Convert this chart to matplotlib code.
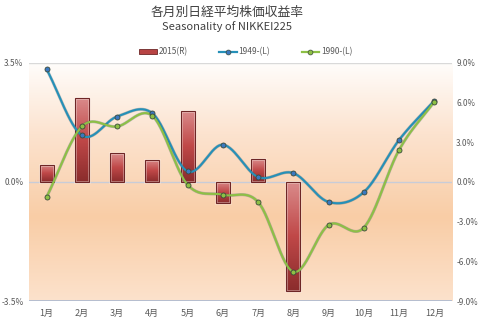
import numpy as np
import matplotlib
matplotlib.use("Agg")
import matplotlib.pyplot as plt
from matplotlib.colors import LinearSegmentedColormap
from matplotlib.lines import Line2D
from matplotlib.patches import Patch
import matplotlib.patheffects as pe

plt.rcParams['font.family'] = ['Noto Sans CJK JP', 'DejaVu Sans']

months = ["1月", "2月", "3月", "4月", "5月", "6月", "7月", "8月", "9月", "10月", "11月", "12月"]
ret_2015 = [0.50, 2.47, 0.84, 0.65, 2.09, -0.62, 0.67, -3.20, None, None, None, None]
ret_1949 = [8.49, 3.50, 4.92, 5.17, 0.78, 2.79, 0.35, 0.65, -1.53, -0.78, 3.16, 6.12]
ret_1990 = [-1.15, 4.17, 4.17, 4.97, -0.23, -0.98, -1.53, -6.80, -3.26, -3.46, 2.41, 6.05]

left_ticks = [-3.5, 0.0, 3.5]
right_ticks = [-9, -6, -3, 0, 3, 6, 9]

BLUE = "#2590B8"
GREEN = "#8DC045"
GRAY_TXT = "#595959"


def smooth(xs, ys, n=30):
    """Catmull-Rom curve through the points."""
    xs = np.asarray(xs, float)
    ys = np.asarray(ys, float)
    px = np.concatenate([[2 * xs[0] - xs[1]], xs, [2 * xs[-1] - xs[-2]]])
    py = np.concatenate([[2 * ys[0] - ys[1]], ys, [2 * ys[-1] - ys[-2]]])
    out_x, out_y = [], []
    t = np.linspace(0, 1, n, endpoint=False)
    for i in range(1, len(px) - 2):
        p0, p1, p2, p3 = px[i - 1], px[i], px[i + 1], px[i + 2]
        q0, q1, q2, q3 = py[i - 1], py[i], py[i + 1], py[i + 2]
        for a, b, c, d, store in ((p0, p1, p2, p3, out_x), (q0, q1, q2, q3, out_y)):
            store.extend(0.5 * ((2 * b) + (-a + c) * t + (2 * a - 5 * b + 4 * c - d) * t ** 2
                                + (-a + 3 * b - 3 * c + d) * t ** 3))
    out_x.append(xs[-1])
    out_y.append(ys[-1])
    return np.array(out_x), np.array(out_y)


fig = plt.figure(figsize=(4.8, 3.23), dpi=100)
fig.patch.set_facecolor("white")
ax = fig.add_axes([0.0604, 0.0681, 0.8813, 0.7384])
ax2 = ax.twinx()

x = np.arange(len(months))
ax.set_xlim(-0.5, len(months) - 0.5)
ax.set_ylim(-3.5, 3.5)
ax2.set_ylim(-9, 9)

# plot-area background gradient
bg = LinearSegmentedColormap.from_list("bg", [(0.0, "#FCE2CC"), (0.35, "#F9CDA6"),
                                              (0.7, "#FCE3CF"), (1.0, "#FFFDFB")])
grad = np.linspace(0, 1, 256).reshape(-1, 1)
ax.imshow(grad, cmap=bg, aspect="auto", extent=[-0.5, len(months) - 0.5, -3.5, 3.5],
          origin="lower", zorder=0)

# gridlines
ax.axhline(3.5, color="#D9D9D9", lw=1.0, zorder=1)
ax.axhline(0.0, color="#C8CCD8", lw=1.0, zorder=1)
ax.axhline(-3.5, color="#A9B8D0", lw=1.2, zorder=1)

# bars with vertical gradient fill
bar_cmap = LinearSegmentedColormap.from_list("bar", ["#8A2C2C", "#C04848", "#DA8C8C"])
bw = 0.4
for xi, v in zip(x, ret_2015):
    if v is None:
        continue
    lo, hi = min(0, v), max(0, v)
    rect = plt.Rectangle((xi - bw / 2, lo), bw, hi - lo, facecolor="none",
                         edgecolor="#6E2626", lw=0.8, zorder=3,
                         path_effects=[pe.Stroke(linewidth=1.8, foreground="#FFF4EE", alpha=0.5),
                                       pe.Normal()])
    ax.add_patch(rect)
    im = ax.imshow(grad, cmap=bar_cmap, aspect="auto",
                   extent=[xi - bw / 2, xi + bw / 2, lo, hi], origin="lower", zorder=2)
    im.set_clip_path(rect)
ax.set_xlim(-0.5, len(months) - 0.5)
ax.set_ylim(-3.5, 3.5)

# smoothed lines on the right axis
for vals, col, mfc in ((ret_1949, BLUE, "#3A78C0"), (ret_1990, GREEN, "#8DC045")):
    sx, sy = smooth(x, vals)
    ax2.plot(sx, sy, color=col, lw=1.5, zorder=4, solid_capstyle="round",
             path_effects=[pe.Stroke(linewidth=2.2, foreground="#3C5A66", alpha=0.35), pe.Normal()])
    ax2.plot(x, vals, ls="none", marker="o", ms=3.6, mfc=mfc, mec="#3A4A3A", mew=0.6, zorder=5)

# axes styling
for a in (ax, ax2):
    for s in a.spines.values():
        s.set_visible(False)
    a.tick_params(length=0, labelsize=6, labelcolor=GRAY_TXT)
ax.set_xticks(x)
ax.set_xticklabels(months, fontsize=6.5, color=GRAY_TXT)
ax.tick_params(axis="x", pad=6)
ax.set_yticks(left_ticks)
ax.set_yticklabels([f"{v:.1f}%" for v in left_ticks])
ax2.set_yticks(right_ticks)
ax2.set_yticklabels([f"{v:.1f}%" for v in right_ticks])
ax.tick_params(axis="y", pad=4)
ax2.tick_params(axis="y", pad=3, labelsize=5.8)

# titles
fig.text(0.473, 0.963, "各月別日経平均株価収益率", ha="center", va="center",
         fontsize=9.2, color="#404040")
fig.text(0.473, 0.917, "Seasonality of NIKKEI225", ha="center", va="center",
         fontsize=8, color="#404040")

# legend
handles = [Patch(facecolor="#B84444", edgecolor="#6E2626", lw=0.6),
           Line2D([], [], color=BLUE, lw=1.6, marker="o", ms=3.5, mfc="#3A78C0", mec="#3A4A3A", mew=0.5),
           Line2D([], [], color=GREEN, lw=1.6, marker="o", ms=3.5, mfc=GREEN, mec="#3A4A3A", mew=0.5)]
leg = fig.legend(handles, ["2015(R)", "1949-(L)", "1990-(L)"], loc="center",
                 bbox_to_anchor=(0.512, 0.839), ncol=3, frameon=False, fontsize=6,
                 handlelength=2.1, handleheight=0.45, handletextpad=0.2, columnspacing=3.8)
for t in leg.get_texts():
    t.set_color(GRAY_TXT)

fig.savefig("out.png", dpi=100, facecolor="white")
